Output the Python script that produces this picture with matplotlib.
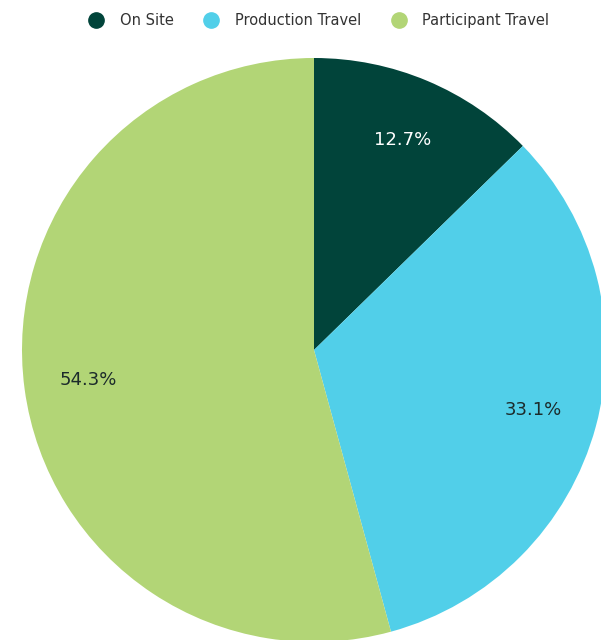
import matplotlib.pyplot as plt
from matplotlib.lines import Line2D

# Chart values
categories = ["On Site", "Production Travel", "Participant Travel"]
shares = [12.7, 33.1, 54.3]
colors = ["#01443a", "#51cfe9", "#b2d576"]
label_colors = ["white", "#1c2b2b", "#1c2b2b"]

W, H = 601, 640
fig = plt.figure(figsize=(W / 100, H / 100), dpi=100)
ax = fig.add_axes([0, 0, 1, 1])

# pie is larger than the canvas and gets clipped at bottom/right like the original
wedges, texts, autotexts = ax.pie(
    shares,
    colors=colors,
    startangle=90,
    counterclock=False,
    center=(314, H - 350),
    radius=292,
    autopct="%.1f%%",
    pctdistance=0.78,
    wedgeprops={"linewidth": 0},
    textprops={"fontsize": 13},
)
# shares sum to 100.1, so show the source values rather than renormalised ones
for t, v, c in zip(autotexts, shares, label_colors):
    t.set_text(f"{v:.1f}%")
    t.set_color(c)

# pie() resets the limits, so set pixel limits afterwards
ax.set_xlim(0, W)
ax.set_ylim(0, H)
ax.set_aspect("equal")
ax.axis("off")

handles = [
    Line2D([], [], marker="o", linestyle="", markersize=11,
           markerfacecolor=c, markeredgecolor=c)
    for c in colors
]
fig.legend(
    handles, categories,
    loc="upper center", bbox_to_anchor=(0.525, 1.0), ncol=3,
    frameon=False, fontsize=10.5, handletextpad=0.6, columnspacing=1.6,
    labelcolor="#333333",
)

fig.savefig("out.png", dpi=100)
